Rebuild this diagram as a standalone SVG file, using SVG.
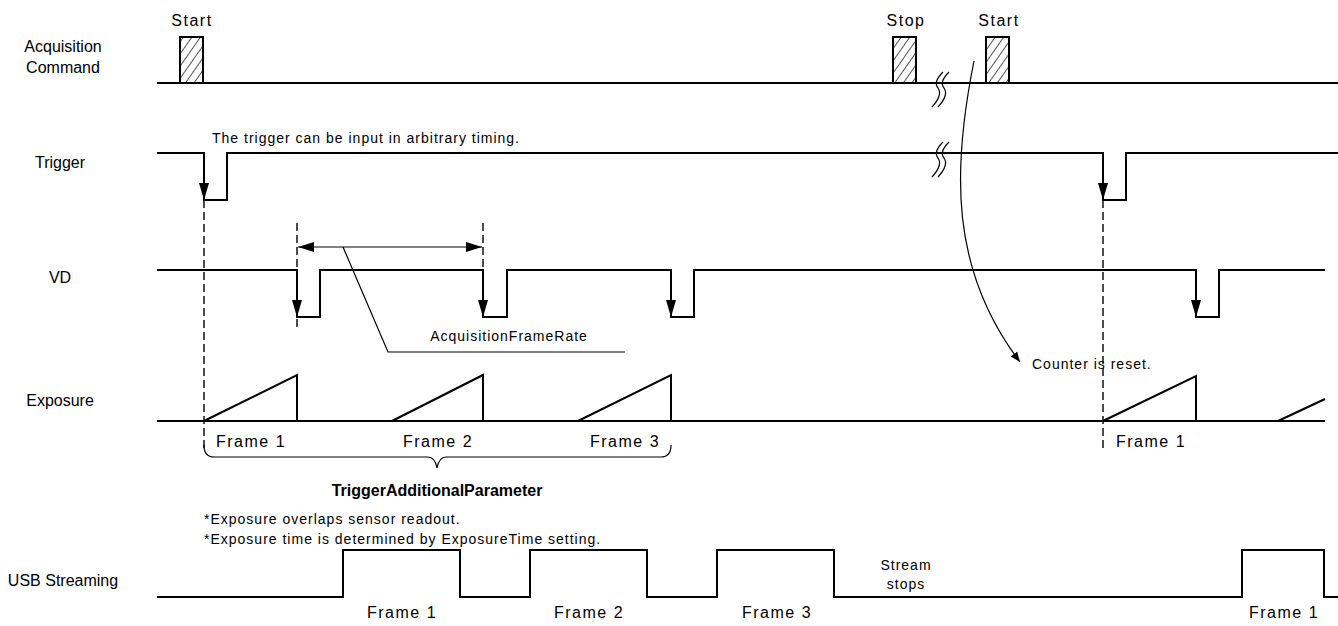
<svg xmlns="http://www.w3.org/2000/svg" width="1338" height="626" viewBox="0 0 1338 626">
<defs>
<style>
text{font-family:"Liberation Sans",Arial,sans-serif;fill:#000}
.lbl{font-size:16px}
.sp{font-size:16px;letter-spacing:1.5px}
.sm{font-size:14px;letter-spacing:1px}
.sig{fill:none;stroke:#000;stroke-width:2}
.thin{fill:none;stroke:#000;stroke-width:1.2}
.dash{fill:none;stroke:#000;stroke-width:1.4;stroke-dasharray:8 4}
.hat{fill:url(#hatch);stroke:#000;stroke-width:2}
</style>
<pattern id="hatch" patternUnits="userSpaceOnUse" width="7" height="7" patternTransform="rotate(-55)">
<rect width="7" height="7" fill="#fff"/>
<line x1="0" y1="3.5" x2="7" y2="3.5" stroke="#555" stroke-width="1"/>
</pattern>
<path id="ad" d="M-5,-17 L5,-17 L0,0 Z" fill="#000"/>
<marker id="ah" viewBox="0 0 10 10" refX="10" refY="5" markerWidth="10" markerHeight="10" markerUnits="userSpaceOnUse" orient="auto-start-reverse">
<path d="M0,1 L10,5 L0,9 Z" fill="#000"/>
</marker>
<marker id="ab" viewBox="0 0 16 10" refX="16" refY="5" markerWidth="16" markerHeight="10" markerUnits="userSpaceOnUse" orient="auto-start-reverse">
<path d="M0,0 L16,5 L0,10 Z" fill="#000"/>
</marker>
</defs>

<g id="labels">
<text class="lbl" x="63" y="52" text-anchor="middle">Acquisition</text>
<text class="lbl" x="63" y="73" text-anchor="middle">Command</text>
<text class="lbl" x="60" y="168" text-anchor="middle">Trigger</text>
<text class="lbl" x="60" y="283" text-anchor="middle">VD</text>
<text class="lbl" x="60" y="406" text-anchor="middle">Exposure</text>
<text class="lbl" x="63" y="586" text-anchor="middle">USB Streaming</text>
</g>

<g id="acq-command">
<line class="sig" x1="157" y1="83" x2="1338" y2="83"/>
<rect class="hat" x="180" y="37" width="23" height="46"/>
<rect class="hat" x="893" y="37" width="23" height="46"/>
<rect class="hat" x="986" y="37" width="23" height="46"/>
<text class="sp" x="192" y="26" text-anchor="middle">Start</text>
<text class="sp" x="906" y="26" text-anchor="middle">Stop</text>
<text class="sp" x="999" y="26" text-anchor="middle">Start</text>
<path class="thin" d="M943,72 Q933,82 938,88 Q943,95 932,107"/>
<path class="thin" d="M949,72 Q939,82 944,88 Q949,95 938,107"/>
</g>

<g id="trigger">
<path class="sig" d="M157,153 H204 V200 H227 V153 H1103 V200 H1126 V153 H1338"/>
<use href="#ad" x="204" y="200"/>
<use href="#ad" x="1103" y="200"/>
<path class="thin" d="M943,142 Q933,152 938,158 Q943,165 932,177"/>
<path class="thin" d="M949,142 Q939,152 944,158 Q949,165 938,177"/>
<text class="sm" x="212" y="143">The trigger can be input in arbitrary timing.</text>
</g>

<g id="vd">
<path class="sig" d="M157,270 H297 V317 H320 V270 H483 V317 H507 V270 H671 V317 H694 V270 H1196 V317 H1219 V270 H1325"/>
<use href="#ad" x="297" y="317"/>
<use href="#ad" x="483" y="317"/>
<use href="#ad" x="671" y="317"/>
<use href="#ad" x="1196" y="317"/>
</g>

<g id="exposure">
<line class="sig" x1="157" y1="421" x2="1325" y2="421"/>
<path class="sig" d="M204,421 L297,375 V421"/>
<path class="sig" d="M392,421 L483,375 V421"/>
<path class="sig" d="M578,421 L671,375 V421"/>
<path class="sig" d="M1103,421 L1196,376 V421"/>
<path class="sig" d="M1278,421 L1325,399"/>
<text class="sp" x="251" y="447" text-anchor="middle">Frame 1</text>
<text class="sp" x="438" y="447" text-anchor="middle">Frame 2</text>
<text class="sp" x="625" y="447" text-anchor="middle">Frame 3</text>
<text class="sp" x="1151" y="447" text-anchor="middle">Frame 1</text>
</g>

<g id="trigger-additional-parameter">
<path class="thin" d="M204,445 Q204,457 214,457 H428 Q435,457 437,468 Q439,457 446,457 H661 Q671,457 671,445"/>
<text x="437" y="496" text-anchor="middle" style="font-size:16px;font-weight:bold">TriggerAdditionalParameter</text>
<text class="sm" x="204" y="524">*Exposure overlaps sensor readout.</text>
<text class="sm" x="204" y="544">*Exposure time is determined by ExposureTime setting.</text>
</g>

<g id="usb-streaming">
<path class="sig" d="M157,597 H343 V550 H460 V597 H530 V550 H647 V597 H717 V550 H834 V597 H1242 V550 H1324 V597 H1338"/>
<text class="sp" x="402" y="618" text-anchor="middle">Frame 1</text>
<text class="sp" x="589" y="618" text-anchor="middle">Frame 2</text>
<text class="sp" x="777" y="618" text-anchor="middle">Frame 3</text>
<text class="sp" x="1284" y="618" text-anchor="middle">Frame 1</text>
<text class="sm" x="906" y="570" text-anchor="middle">Stream</text>
<text class="sm" x="906" y="589" text-anchor="middle">stops</text>
</g>

<g id="connectors">
<line class="dash" x1="204" y1="200" x2="204" y2="452"/>
<line class="dash" x1="1103" y1="200" x2="1103" y2="452"/>
<line class="dash" x1="297" y1="223" x2="297" y2="330"/>
<line class="dash" x1="483" y1="223" x2="483" y2="318"/>
<line class="thin" x1="298" y1="247" x2="482" y2="247" marker-start="url(#ab)" marker-end="url(#ab)"/>
<path class="thin" d="M343,247 L388,352 H625"/>
<text class="sm" x="509" y="341" text-anchor="middle">AcquisitionFrameRate</text>
<path class="thin" d="M974,61 C952,170 950,270 1020,362" marker-end="url(#ah)"/>
<text class="sm" x="1032" y="369">Counter is reset.</text>
</g>
</svg>
